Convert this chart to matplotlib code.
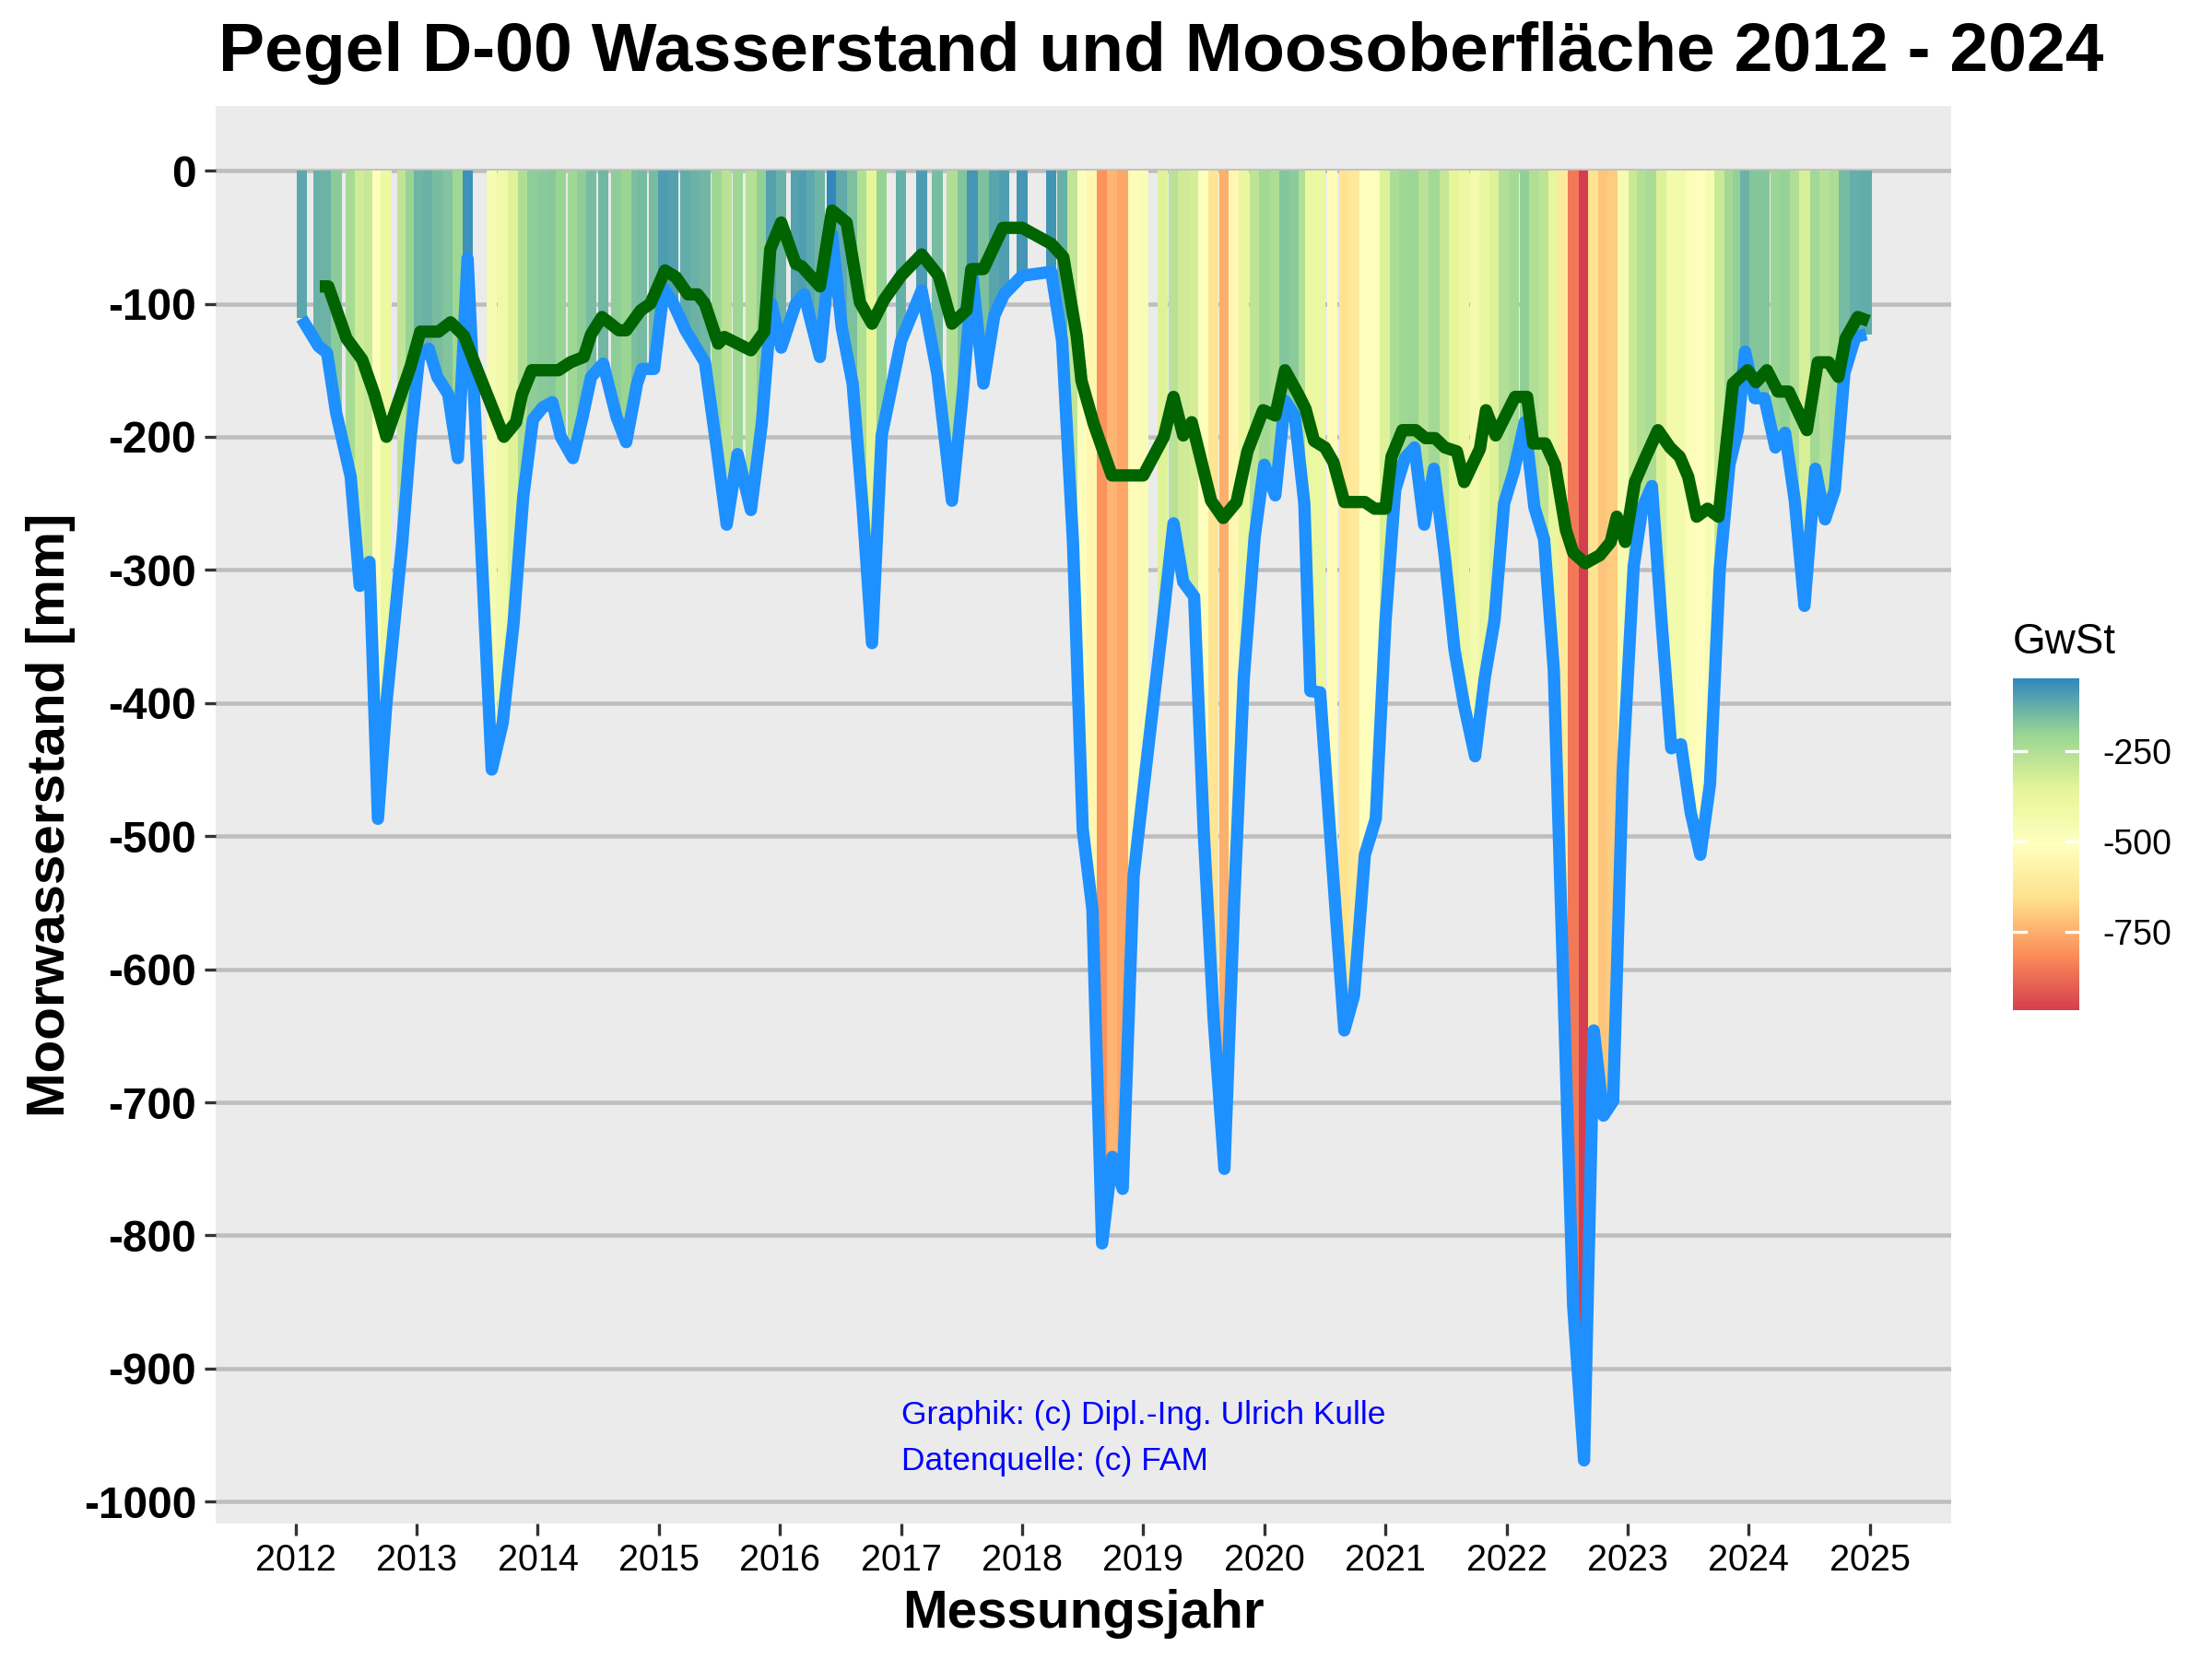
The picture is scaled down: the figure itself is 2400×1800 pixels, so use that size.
import matplotlib
matplotlib.use('Agg')
import matplotlib.pyplot as plt
from matplotlib.colors import LinearSegmentedColormap, Normalize
from matplotlib.cm import ScalarMappable

plt.rcParams['font.family'] = ['Liberation Sans', 'DejaVu Sans']

## Grundwasserstand (GwSt), Messzeitpunkte als Dezimaljahr
gw_dates = [
    2012.05, 2012.19, 2012.26, 2012.335, 2012.455, 2012.53, 2012.61, 2012.68,
    2012.75, 2012.88, 2012.95, 2013.02, 2013.10, 2013.17, 2013.26, 2013.34,
    2013.42, 2013.62, 2013.71, 2013.80, 2013.88, 2013.96, 2014.04, 2014.12,
    2014.19, 2014.29, 2014.37, 2014.44, 2014.54, 2014.65, 2014.73, 2014.82,
    2014.86, 2014.96, 2015.04, 2015.12, 2015.22, 2015.30, 2015.38, 2015.48,
    2015.56, 2015.65, 2015.76, 2015.85, 2015.93, 2016.01, 2016.13, 2016.20,
    2016.26, 2016.33, 2016.43, 2016.51, 2016.60, 2016.68, 2016.76, 2016.84,
    2017.00, 2017.17, 2017.30, 2017.42, 2017.51, 2017.59, 2017.68, 2017.77,
    2017.85, 2018.00, 2018.24, 2018.33, 2018.42, 2018.50, 2018.58, 2018.66,
    2018.745, 2018.83, 2018.92, 2019.00, 2019.16, 2019.25, 2019.33, 2019.42,
    2019.50, 2019.58, 2019.67, 2019.75, 2019.83, 2019.92, 2020.00, 2020.09,
    2020.17, 2020.25, 2020.33, 2020.38, 2020.46, 2020.56, 2020.66, 2020.74,
    2020.83, 2020.92, 2021.00, 2021.08, 2021.16, 2021.24, 2021.32, 2021.40,
    2021.49, 2021.57, 2021.65, 2021.74, 2021.82, 2021.90, 2021.98, 2022.06,
    2022.15, 2022.23, 2022.31, 2022.39, 2022.47, 2022.55, 2022.64, 2022.72,
    2022.80, 2022.88, 2022.96, 2023.05, 2023.12, 2023.20, 2023.28, 2023.36,
    2023.44, 2023.52, 2023.60, 2023.68, 2023.76, 2023.84, 2023.91, 2023.97,
    2024.05, 2024.13, 2024.22, 2024.30, 2024.38, 2024.46, 2024.55, 2024.63,
    2024.71, 2024.79, 2024.88, 2024.97,
]
gwst = [
    -111, -132, -137, -182, -230, -312, -294, -487,
    -400, -280, -200, -140, -134, -155, -168, -216,
    -66, -450, -415, -340, -245, -187, -178, -174,
    -200, -216, -185, -155, -145, -185, -204, -160,
    -149, -149, -89, -100, -120, -132, -144, -210,
    -266, -213, -255, -190, -100, -133, -100, -93,
    -115, -140, -48, -118, -160, -250, -355, -199,
    -128, -90, -153, -248, -167, -80, -160, -109,
    -93, -79, -76, -128, -280, -495, -555, -806,
    -741, -765, -530, -466, -340, -265, -309, -320,
    -498, -636, -750, -551, -381, -275, -221, -244,
    -173, -184, -250, -391, -392, -520, -646, -620,
    -514, -487, -339, -240, -216, -208, -266, -224,
    -290, -360, -402, -440, -381, -338, -250, -226,
    -189, -253, -277, -375, -614, -853, -969, -646,
    -710, -699, -450, -297, -254, -237, -339, -434,
    -431, -482, -514, -461, -300, -221, -195, -136,
    -171, -171, -208, -197, -248, -327, -224, -262,
    -240, -152, -125, -123,
]

## Moosoberflaeche
moos_dates = [
    2012.20, 2012.27, 2012.42, 2012.55, 2012.65, 2012.75, 2012.95, 2013.03,
    2013.18, 2013.28, 2013.39, 2013.51, 2013.65, 2013.72, 2013.82, 2013.87,
    2013.95, 2014.17, 2014.27, 2014.38, 2014.44, 2014.53, 2014.67, 2014.73,
    2014.85, 2014.93, 2015.05, 2015.14, 2015.24, 2015.32, 2015.38, 2015.49,
    2015.54, 2015.76, 2015.87, 2015.92, 2016.01, 2016.13, 2016.18, 2016.33,
    2016.43, 2016.55, 2016.66, 2016.76, 2016.86, 2017.00, 2017.17, 2017.31,
    2017.42, 2017.54, 2017.58, 2017.68, 2017.84, 2018.00, 2018.24, 2018.34,
    2018.45, 2018.49, 2018.59, 2018.74, 2019.00, 2019.17, 2019.25, 2019.33,
    2019.40, 2019.56, 2019.66, 2019.77, 2019.86, 2019.99, 2020.09, 2020.17,
    2020.28, 2020.34, 2020.41, 2020.50, 2020.57, 2020.66, 2020.83, 2020.91,
    2021.00, 2021.05, 2021.14, 2021.25, 2021.33, 2021.41, 2021.49, 2021.59,
    2021.65, 2021.78, 2021.83, 2021.91, 2022.07, 2022.17, 2022.22, 2022.32,
    2022.40, 2022.49, 2022.55, 2022.65, 2022.77, 2022.86, 2022.91, 2022.98,
    2023.06, 2023.15, 2023.25, 2023.35, 2023.43, 2023.50, 2023.57, 2023.66,
    2023.75, 2023.87, 2023.99, 2024.06, 2024.15, 2024.24, 2024.33, 2024.48,
    2024.57, 2024.66, 2024.74, 2024.80, 2024.90, 2024.99,
]
moos = [
    -87, -87, -126, -142, -168, -200, -147, -121,
    -121, -114, -124, -152, -184, -200, -189, -168,
    -150, -150, -144, -140, -123, -110, -120, -120,
    -105, -100, -75, -80, -93, -93, -100, -130,
    -125, -135, -121, -59, -39, -70, -72, -87,
    -30, -39, -99, -115, -97, -79, -63, -79,
    -115, -105, -74, -74, -43, -43, -55, -65,
    -124, -158, -190, -229, -229, -200, -170, -199,
    -189, -248, -261, -249, -211, -180, -184, -150,
    -168, -179, -203, -208, -219, -249, -249, -254,
    -254, -215, -195, -195, -201, -201, -208, -211,
    -234, -209, -180, -199, -170, -170, -205, -205,
    -221, -270, -287, -295, -289, -279, -260, -279,
    -234, -215, -195, -208, -215, -230, -260, -254,
    -260, -160, -150, -159, -150, -166, -166, -195,
    -144, -144, -155, -126, -110, -113,
]

year_ticks = list(range(2012, 2026))
mm_ticks = list(range(0, -1001, -100))
cbar_ticks = [-250, -500, -750]

spectral7 = ['#D53E4F', '#FC8D59', '#FEE08B', '#FFFFBF', '#E6F598', '#99D594', '#3288BD']
cmap = LinearSegmentedColormap.from_list('spectral7', spectral7)
norm = Normalize(vmin=min(gwst), vmax=max(gwst))

fig = plt.figure(figsize=(8, 6), dpi=300)
ax = fig.add_axes([0.0975, 0.0817, 0.7845, 0.8543])
ax.set_facecolor('#EBEBEB')
for s in ax.spines.values():
    s.set_visible(False)

ax.bar(gw_dates, gwst, width=0.088, color=cmap(norm(gwst)), linewidth=0, zorder=2)
ax.plot(gw_dates, gwst, color='#1E90FF', lw=3.2, solid_joinstyle='round',
        solid_capstyle='butt', zorder=3)
ax.plot(moos_dates, moos, color='#006400', lw=3.2, solid_joinstyle='round',
        solid_capstyle='butt', zorder=4)

ax.set_xlim(2011.34, 2025.67)
ax.set_ylim(-1016.4, 48.4)
ax.set_yticks(mm_ticks)
ax.set_yticklabels([str(v) for v in mm_ticks], fontweight='bold', fontsize=11.5)
ax.set_xticks(year_ticks)
ax.set_xticklabels([str(y) for y in year_ticks], fontsize=9.5)
ax.tick_params(length=3, width=0.8, color='#333333', pad=2)
ax.yaxis.grid(True, color='#BEBEBE', lw=1.1, zorder=0)
ax.set_axisbelow(True)

ax.set_xlabel('Messungsjahr', fontsize=14, fontweight='bold', labelpad=3)
ax.set_ylabel('Moorwasserstand [mm]', fontsize=14, fontweight='bold', labelpad=2)
fig.text(0.525, 0.968, 'Pegel D-00 Wasserstand und Moosoberfläche 2012 - 2024',
         ha='center', va='center', fontsize=18, fontweight='bold')

ax.text(2017.0, -935, 'Graphik: (c) Dipl.-Ing. Ulrich Kulle', color='blue',
        fontsize=8.5, ha='left', va='center')
ax.text(2017.0, -970, 'Datenquelle: (c) FAM', color='blue',
        fontsize=8.5, ha='left', va='center')

## colour legend (ggplot style colourbar)
cax = fig.add_axes([0.910, 0.391, 0.030, 0.200])
sm = ScalarMappable(norm=norm, cmap=cmap)
cb = fig.colorbar(sm, cax=cax, ticks=cbar_ticks)
cb.outline.set_visible(False)
cb.ax.tick_params(length=0, pad=6, labelsize=9)
cb.ax.set_yticklabels([str(v) for v in cbar_ticks])
for v in cbar_ticks:
    cax.axhline(v, xmin=0, xmax=0.2, color='white', lw=0.8)
    cax.axhline(v, xmin=0.8, xmax=1, color='white', lw=0.8)
fig.text(0.910, 0.613, 'GwSt', fontsize=11, ha='left', va='center')

fig.savefig('out.png', dpi=300)
